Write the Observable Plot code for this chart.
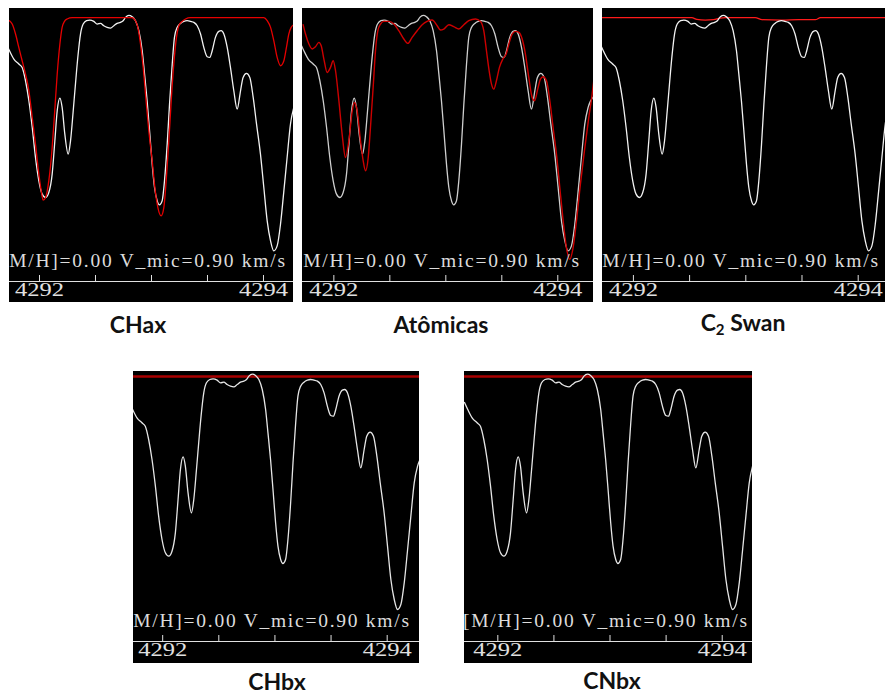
<!DOCTYPE html>
<html><head><meta charset="utf-8">
<script src="https://cdn.jsdelivr.net/npm/d3@7"></script>
<script src="https://cdn.jsdelivr.net/npm/@observablehq/plot@0.6"></script>
<style>
body{margin:0;background:#fff;}
#fig{position:relative;width:885px;height:692px;overflow:hidden;background:#fff;}
.panel{position:absolute;}
.panel svg{display:block;}
.cap{position:absolute;font-family:Lato,"Open Sans",sans-serif;font-weight:700;font-size:23px;line-height:23px;color:#111;white-space:nowrap;transform:translateX(-50%);}
.cap sub{font-size:15px;vertical-align:-4px;line-height:0;}
</style></head><body><div id="fig"></div>
<script>
// Observed spectrum (white)
const obsWave = [4291.703,4291.732,4291.771,4291.815,4291.845,4291.875,4291.905,4291.935,4291.964,4291.994,4292.024,4292.054,4292.083,4292.113,4292.137,4292.158,4292.182,4292.202,4292.226,4292.256,4292.277,4292.301,4292.321,4292.342,4292.366,4292.390,4292.420,4292.449,4292.485,4292.515,4292.545,4292.574,4292.604,4292.634,4292.664,4292.693,4292.723,4292.747,4292.768,4292.798,4292.827,4292.857,4292.887,4292.917,4292.938,4292.961,4292.985,4293.006,4293.027,4293.051,4293.071,4293.095,4293.116,4293.140,4293.161,4293.185,4293.205,4293.229,4293.259,4293.289,4293.318,4293.348,4293.378,4293.408,4293.438,4293.467,4293.497,4293.521,4293.542,4293.571,4293.601,4293.622,4293.646,4293.676,4293.705,4293.735,4293.765,4293.795,4293.818,4293.848,4293.878,4293.908,4293.938,4293.973,4294.003,4294.033,4294.063,4294.092,4294.122,4294.152,4294.182,4294.211,4294.241,4294.271,4294.321];
const obsFlux = [0.935,0.9175,0.8967,0.8842,0.8758,0.8425,0.7925,0.7258,0.6508,0.5925,0.5592,0.5508,0.5633,0.6092,0.6925,0.7675,0.7992,0.7758,0.7092,0.6592,0.6925,0.7675,0.8342,0.9008,0.9592,0.9842,0.9925,0.9942,0.9908,0.9842,0.9858,0.98,0.9758,0.9742,0.98,0.9858,0.9883,0.9925,1.0008,1.0058,1.0025,0.9925,0.9675,0.9175,0.8592,0.7925,0.7092,0.6342,0.5758,0.5425,0.5325,0.5425,0.5925,0.6842,0.7842,0.8842,0.9508,0.9758,0.9858,0.9908,0.9925,0.9908,0.9883,0.98,0.9592,0.9258,0.9025,0.9008,0.9175,0.9508,0.9658,0.9675,0.9592,0.9258,0.8758,0.8175,0.7717,0.8175,0.8508,0.8608,0.8508,0.8008,0.7342,0.6592,0.5758,0.4925,0.4425,0.4175,0.43,0.4842,0.5675,0.6508,0.7342,0.7758,0.8033];

// CHax synthetic (red)
const chaxWave = [4291.732,4291.756,4291.786,4291.815,4291.845,4291.875,4291.905,4291.935,4291.964,4291.994,4292.015,4292.033,4292.054,4292.083,4292.113,4292.134,4292.158,4292.182,4292.202,4292.223,4292.247,4292.292,4292.827,4292.857,4292.878,4292.902,4292.926,4292.949,4292.976,4293.006,4293.030,4293.057,4293.086,4293.110,4293.131,4293.155,4293.176,4293.199,4293.223,4293.244,4293.274,4293.304,4293.348,4294.003,4294.033,4294.063,4294.092,4294.122,4294.152,4294.182,4294.205,4294.226,4294.247,4294.271];
const chaxFlux = [0.9925,0.9842,0.9592,0.9258,0.8925,0.8592,0.8175,0.7508,0.6842,0.6092,0.5675,0.5442,0.5508,0.5925,0.6758,0.7592,0.8592,0.9342,0.9758,0.9908,0.9967,1.0,1.0,0.9925,0.9758,0.9342,0.8758,0.8008,0.7175,0.6425,0.5758,0.5258,0.505,0.5258,0.5925,0.6925,0.7925,0.8842,0.9508,0.98,0.9908,0.9967,1.0,1.0,0.9925,0.9758,0.9425,0.9008,0.88,0.8925,0.9258,0.9592,0.9758,0.9825];

// Atomic-lines synthetic (red)
const atomWave = [4291.726,4291.747,4291.777,4291.807,4291.836,4291.866,4291.887,4291.911,4291.940,4291.970,4291.994,4292.015,4292.045,4292.074,4292.104,4292.134,4292.164,4292.185,4292.208,4292.238,4292.262,4292.283,4292.307,4292.327,4292.351,4292.372,4292.393,4292.417,4292.446,4292.491,4292.536,4292.580,4292.625,4292.661,4292.699,4292.744,4292.789,4292.833,4292.878,4292.923,4292.952,4292.982,4293.027,4293.071,4293.116,4293.161,4293.205,4293.265,4293.310,4293.339,4293.363,4293.387,4293.408,4293.429,4293.452,4293.479,4293.509,4293.539,4293.563,4293.592,4293.622,4293.652,4293.682,4293.711,4293.741,4293.771,4293.792,4293.821,4293.845,4293.869,4293.899,4293.929,4293.958,4293.988,4294.018,4294.048,4294.077,4294.107,4294.137,4294.167,4294.202,4294.238,4294.277,4294.307,4294.321];
const atomFlux = [0.9825,0.9592,0.9342,0.9217,0.9275,0.9383,0.93,0.8967,0.8633,0.8758,0.8925,0.8675,0.7925,0.7092,0.6508,0.6925,0.7675,0.7883,0.7675,0.6925,0.6425,0.6175,0.6508,0.7258,0.8258,0.9175,0.9675,0.9842,0.9908,0.9908,0.9842,0.9675,0.9467,0.9358,0.9508,0.9675,0.9825,0.9908,0.9942,0.98,0.9692,0.9717,0.9825,0.9775,0.9717,0.9825,0.9925,0.9967,0.9908,0.9675,0.9175,0.8675,0.8342,0.8217,0.8425,0.8758,0.8967,0.9092,0.9342,0.9592,0.9658,0.9633,0.9467,0.9092,0.8508,0.8008,0.7925,0.8217,0.8467,0.8525,0.8425,0.7925,0.7258,0.6592,0.5758,0.4925,0.4258,0.3967,0.4258,0.4925,0.5842,0.6675,0.7508,0.8092,0.8425];

// C2 Swan synthetic (red)
const swanWave = [4291.724,4292.520,4292.564,4292.639,4292.713,4292.772,4292.817,4293.084,4293.144,4293.322,4293.471,4293.619,4293.664,4294.243];
const swanFlux = [1.0,1.0,0.996,0.994,0.995,0.999,1.0,1.0,0.995,0.994,0.995,0.995,1.0,1.0];

// CHbx / CNbx synthetic (flat continuum)
const flatWave = [4291.70,4294.32];
const flatFlux = [1.0,1.0];

const tickLabels = [4292, 4294];
const minorTicks = [4292, 4292.5, 4293, 4293.5, 4294];
const panelLabel = "[M/H]=0.00 V_mic=0.90 km/s";
const captions = ["CHax", "Atômicas", "C₂ Swan", "CHbx", "CNbx"];

function series(w, f) { return w.map((x, i) => ({x, y: f[i]})); }

const panels = [
  {left: 9,   top: 8,   width: 284, height: 294, mb: 21, xd: [4291.732, 4294.268], yd: [0.341, 1.023], model: [chaxWave, chaxFlux], red: "#e60000", rw: 1.3, white: "#f2f2f2", redTop: true, tdx: -8.5, cap: 0, cx: 138, cb: 333},
  {left: 302, top: 8,   width: 291, height: 294, mb: 21, xd: [4291.720, 4294.319], yd: [0.341, 1.023], model: [atomWave, atomFlux], red: "#cc0000", rw: 1.4, white: "#cfcfcf", redTop: true, tdx: -7.5, cap: 1, cx: 441, cb: 333},
  {left: 602, top: 8,   width: 283, height: 294, mb: 21, xd: [4291.725, 4294.243], yd: [0.341, 1.023], model: [swanWave, swanFlux], red: "#ff1a1a", rw: 1.3, white: "#f2f2f2", redTop: false, tdx: -8.5, cap: 2, cx: 743, cb: 331},
  {left: 133, top: 371, width: 286, height: 292, mb: 22, xd: [4291.740, 4294.288], yd: [0.3375, 1.0125], model: [flatWave, flatFlux], red: "#a80000", rw: 2.3, white: "#e6e6e6", redTop: false, tdx: -8.5, cap: 3, cx: 277, cb: 690},
  {left: 464, top: 371, width: 288, height: 292, mb: 22, xd: [4291.703, 4294.270], yd: [0.3375, 1.0125], model: [flatWave, flatFlux], red: "#a80000", rw: 2.3, white: "#e6e6e6", redTop: false, tdx: -1.5, cap: 4, cx: 612, cb: 689}
];

const fig = document.getElementById("fig");

for (const p of panels) {
  const whiteLine = Plot.line(series(obsWave, obsFlux), {x: "x", y: "y", stroke: p.white, strokeWidth: 1.3, curve: "monotone-x", clip: true});
  const redLine = Plot.line(series(p.model[0], p.model[1]), {x: "x", y: "y", stroke: p.red, strokeWidth: p.rw, curve: "monotone-x", clip: true});
  const chart = Plot.plot({
    width: p.width,
    height: p.height,
    marginTop: 0, marginLeft: 0, marginRight: 0, marginBottom: p.mb,
    x: {domain: p.xd},
    y: {domain: p.yd, axis: null},
    style: {background: "#000", overflow: "hidden"},
    marks: [
      p.redTop ? whiteLine : redLine,
      p.redTop ? redLine : whiteLine,
      Plot.ruleY([p.yd[0]], {stroke: "#e0e0e0", strokeWidth: 1.2}),
      Plot.axisX({ticks: minorTicks, anchor: "bottom", tickSize: 6, dy: -6, stroke: "#e0e0e0", fill: "none", label: null}),
      Plot.axisX({ticks: tickLabels, anchor: "bottom", tickSize: 0, tickPadding: 1.5, tickFormat: d3.format("d"), fontFamily: "Liberation Serif", fontSize: 18.5, fill: "#e0e0e0", label: null}),
      Plot.text([panelLabel], {frameAnchor: "bottom-left", textAnchor: "start", lineAnchor: "bottom", dx: p.tdx, dy: -14.3, fill: "#dcdcdc", fontFamily: "Liberation Serif", fontSize: 19.5})
    ]
  });
  // widen the IDL-style labels to the reference's extent
  chart.querySelectorAll('g[aria-label="x-axis tick label"] text').forEach(t => {
    t.setAttribute("textLength", "49");
    t.setAttribute("lengthAdjust", "spacingAndGlyphs");
  });
  chart.querySelectorAll('g[aria-label="text"] text').forEach(t => {
    t.setAttribute("textLength", "284");
    t.setAttribute("lengthAdjust", "spacing");
  });
  const div = document.createElement("div");
  div.className = "panel";
  div.style.left = p.left + "px";
  div.style.top = p.top + "px";
  div.style.width = p.width + "px";
  div.appendChild(chart);
  fig.appendChild(div);

  const cap = document.createElement("div");
  cap.className = "cap";
  cap.style.left = p.cx + "px";
  cap.style.top = (p.cb - 20.4) + "px";
  const txt = captions[p.cap];
  if (txt.includes("₂")) {
    const parts = txt.split("₂");
    cap.append(parts[0]);
    const sub = document.createElement("sub");
    sub.textContent = "2";
    cap.append(sub);
    cap.append(parts[1]);
  } else {
    cap.textContent = txt;
  }
  fig.appendChild(cap);
}
</script></body></html>
